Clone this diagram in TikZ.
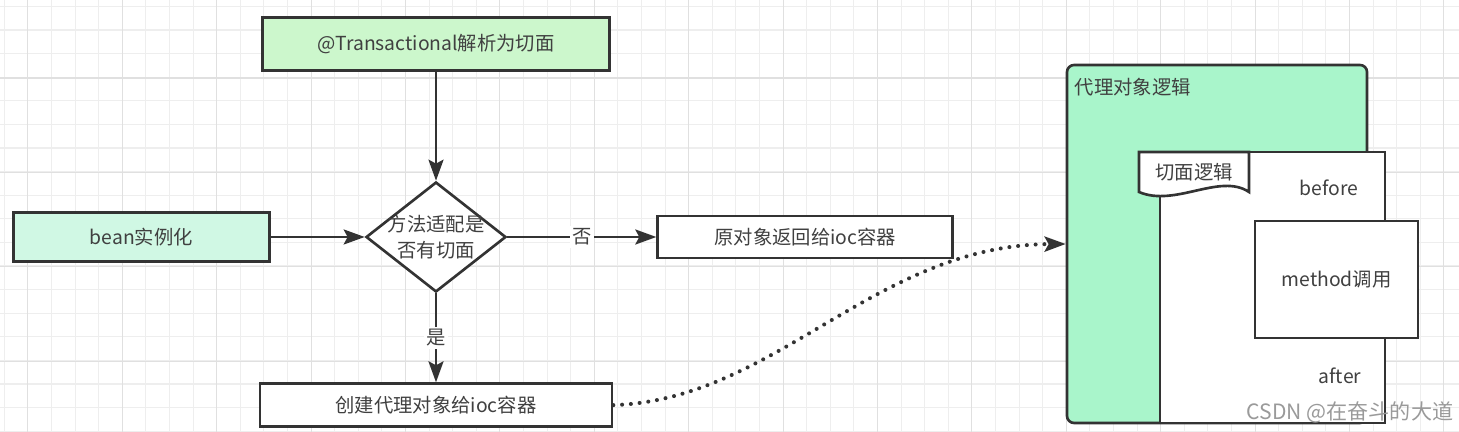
\documentclass[tikz,border=0pt]{standalone}
\usepackage{fontspec}
\setmainfont{Noto Sans CJK SC}
\usetikzlibrary{arrows.meta, positioning, shapes.geometric}
\definecolor{edge}{HTML}{333333}
\definecolor{ink}{HTML}{404040}
\definecolor{tranfill}{HTML}{CCF7CC}
\definecolor{beanfill}{HTML}{D0F8E4}
\definecolor{proxyfill}{HTML}{A9F5CB}
\definecolor{gridminor}{HTML}{EEEEEE}
\definecolor{gridmajor}{HTML}{E0E0E0}
\definecolor{mark}{HTML}{9A9A9A}

\begin{document}
\begin{tikzpicture}[
  font=\fontsize{11}{13}\selectfont,
  box/.style={draw=edge, line width=1.5pt, minimum height=0.84cm,
              text=ink, align=center, inner sep=2pt},
  decision/.style={shape=diamond, draw=edge, line width=1.5pt, fill=white,
                   minimum width=2.8cm, minimum height=2.2cm, inner sep=0pt},
  bigbox/.style={draw=edge, line width=1.5pt, fill=proxyfill, rounded corners=4pt},
  txt/.style={text=ink, inner sep=1pt},
  lbl/.style={fill=white, inner sep=1.5pt, text=ink},
  arr/.style={-{Stealth[length=0.42cm, width=0.3cm, inset=0.08cm]},
              draw=edge, line width=1.5pt},
  dotarr/.style={arr, line cap=round, dash pattern=on 0pt off 5pt, line width=2.3pt}
]
  % Canvas and grid
  \fill[white] (0,0) rectangle (29.18,-8.64);
  \useasboundingbox (0,0) rectangle (29.18,-8.64);
  \begin{scope}
    \clip (0,0) rectangle (29.18,-8.64);
    \draw[gridminor, line width=0.6pt, xshift=0.086cm, yshift=-0.128cm]
      (-1,-10) grid[step=0.472] (31,1);
    \draw[gridmajor, line width=0.6pt, xshift=0.558cm, yshift=0.328cm]
      (-2,-12) grid[step=1.888] (32,2);
  \end{scope}

  % Flow
  \node[decision] (match) at (8.72,-4.74) {};
  \node[txt, align=center, font=\fontsize{11}{14.5}\selectfont] (matchtext)
    at (match.center) {方法适配是\\否有切面};
  \node[box, fill=tranfill, minimum width=6.94cm, minimum height=1.06cm,
        above=2.18cm of match] (parse) {@Transactional解析为切面};
  \node[box, fill=beanfill, minimum width=5.12cm, minimum height=0.98cm,
        left=1.88cm of match] (bean) {bean实例化};
  \node[box, fill=white, minimum width=5.9cm, right=2.98cm of match] (origin)
    {原对象返回给ioc容器};
  \node[box, fill=white, minimum width=7.04cm, minimum height=0.86cm,
        below=1.78cm of match] (create) {创建代理对象给ioc容器};

  % Proxy
  \node[bigbox, minimum width=6cm, minimum height=7.16cm] (proxy) at (24.34,-4.88) {};
  \node[txt, anchor=west] (proxytitle)
    at ([xshift=0.14cm, yshift=-0.46cm]proxy.north west) {代理对象逻辑};
  \node[box, fill=white, minimum width=4.5cm, minimum height=5.42cm,
        anchor=south east] (aspect) at ([xshift=0.36cm]proxy.south east) {};
  \draw[edge, line width=1.5pt, fill=white]
    (22.78,-3.04) -- (24.98,-3.04) -- (24.98,-3.84)
    .. controls (24.4,-3.45) and (23.5,-4.15) .. (22.78,-3.84) -- cycle;
  \node[txt] (aspecttitle) at (23.88,-3.44) {切面逻辑};
  \node[txt] (before) at (26.58,-3.76) {before};
  \node[box, fill=white, minimum width=3.26cm, minimum height=2.34cm]
    (method) at (26.73,-5.59) {method调用};
  \node[txt] (after) at (26.8,-7.52) {after};

  % Arrows
  \draw[arr] (parse) -- (match);
  \draw[arr] (bean.east) -- (match.west);
  \draw[arr] (match) -- node[lbl] (no) {否} (origin);
  \draw[arr] (match) -- node[lbl] (yes) {是} (create);
  \draw[dotarr] (create.east) .. controls (15.5,-8.0) and (17.5,-4.9) .. (proxy.west);

  \node[text=mark, font=\fontsize{12}{14}\selectfont] (wmark) at (27.0,-8.24)
    {CSDN @在奋斗的大道};
\end{tikzpicture}
\end{document}
